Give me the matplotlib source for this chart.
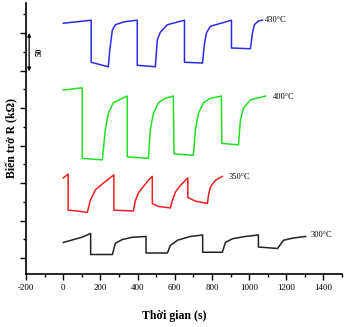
import matplotlib
matplotlib.use('Agg')
import matplotlib.pyplot as plt
from matplotlib.ticker import MultipleLocator

plt.rcParams['axes.unicode_minus'] = False

# time (s) and resistance (arb. kOhm, offset per curve)
t_430 = [0, 150, 150, 242, 250, 258, 264, 280, 330, 398, 398, 495, 506, 522, 560, 652,
         652, 749, 759, 770, 792, 905, 905, 1007, 1018, 1028, 1050, 1072]
r_430 = [313, 317, 261, 255, 277, 293, 304, 311, 315, 317, 257, 255, 291, 301, 311, 317,
         261, 260, 284, 300, 309, 317, 280, 279, 300, 311, 316, 317]

t_400 = [0, 102, 102, 210, 226, 242, 269, 317, 344, 344, 458, 468, 485, 511, 549, 592,
         596, 700, 711, 727, 754, 792, 851, 853, 943, 953, 970, 1007, 1088]
r_400 = [224, 227, 133, 131, 171, 193, 207, 213, 216, 135, 133, 171, 193, 207, 213,
         216, 139, 137, 171, 193, 207, 213, 216, 153, 151, 184, 200, 211, 216]

t_350 = [0, 26, 26, 75, 129, 145, 172, 215, 272, 272, 377, 388, 404, 458, 479, 479,
         511, 576, 587, 603, 630, 670, 670, 711, 776, 781, 792, 819, 856]
r_350 = [107, 112, 64, 63, 61, 77, 91, 100, 111, 64, 63, 77, 87, 104, 109, 73,
         69, 67, 77, 88, 97, 107, 81, 76, 73, 84, 95, 104, 109]

t_300 = [0, 100, 147, 147, 264, 280, 318, 372, 445, 445, 560, 576, 614, 683, 750,
         750, 856, 872, 910, 980, 1050, 1050, 1153, 1185, 1240, 1304]
r_300 = [21, 28, 33, 5, 5, 20, 25, 28, 29, 7, 7, 17, 24, 29, 31,
         8, 8, 21, 26, 29, 31, 15, 13, 24, 27, 29]

labels = ['430°C', '400°C', '350°C', '300°C']
label_t = [1083, 1126, 889, 1331]
label_r = [317, 215, 108, 31]

serif = 'Liberation Serif'

fig = plt.figure(figsize=(3.49, 3.27), dpi=100)
ax = fig.add_axes([0.075, 0.162, 0.905, 0.829])

ax.plot(t_430, r_430, color='#2b2be6', lw=1.1)
ax.plot(t_400, r_400, color='#22e022', lw=1.1)
ax.plot(t_350, r_350, color='#ee2020', lw=1.1)
ax.plot(t_300, r_300, color='#222222', lw=1.1)

for s, x, y in zip(labels, label_t, label_r):
    ax.text(x, y, s, fontsize=6, family=serif, va='center', ha='left')

# 50 kOhm scale bar
ax.annotate('', xy=(-184, 300), xytext=(-184, 249),
            arrowprops=dict(arrowstyle='<|-|>', color='black', lw=0.9,
                            mutation_scale=5, shrinkA=0, shrinkB=0))
ax.text(-130, 275, '50', rotation=90, fontsize=6, family=serif,
        fontweight='bold', va='center', ha='center')

ax.set_xlim(-200, 1500)
ax.set_ylim(-21, 340)
ax.xaxis.set_major_locator(MultipleLocator(200))
ax.xaxis.set_minor_locator(MultipleLocator(100))
ax.yaxis.set_major_locator(MultipleLocator(50))
ax.yaxis.set_minor_locator(MultipleLocator(25))
ax.set_yticklabels([])
ax.tick_params(axis='both', which='major', length=4, width=1, labelsize=6.5)
ax.tick_params(axis='both', which='minor', length=2.5, width=1)
for lab in ax.get_xticklabels():
    lab.set_family(serif)

ax.spines['top'].set_visible(False)
ax.spines['right'].set_visible(False)
ax.spines['left'].set_linewidth(1.2)
ax.spines['bottom'].set_linewidth(1.2)

ax.set_xlabel('Thời gian (s)', family=serif, fontweight='bold', fontsize=8.5)
ax.set_ylabel('Biến trở R (kΩ)', family=serif, fontweight='bold', fontsize=8.5)
ax.xaxis.set_label_coords(0.47, -0.155)
ax.xaxis.label.set_va('center')
ax.yaxis.set_label_coords(-0.045, 0.5)
ax.yaxis.label.set_va('center')

fig.savefig('out.png', dpi=100)
